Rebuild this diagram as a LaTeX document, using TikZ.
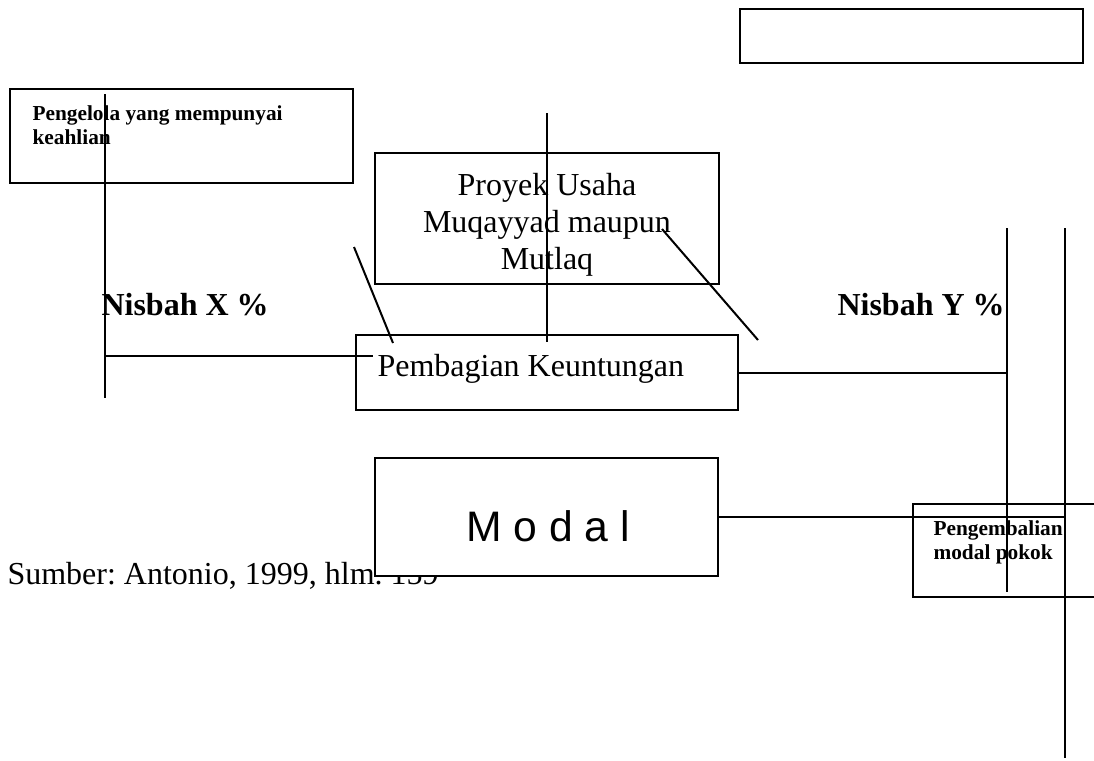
\documentclass[tikz,border=0pt]{standalone}
\usepackage{fontspec}
\setmainfont{Liberation Serif}
\newfontfamily\modalfont{Liberation Sans}
\usetikzlibrary{positioning}
\frenchspacing
\newcommand{\pxl}{0.375pt}
\tikzset{flow box/.style={draw, line width=0.95pt, inner sep=0pt}}
\tikzset{plain edge/.style={draw, line width=0.75pt}}
\tikzset{small label/.style={inner sep=0pt, font=\fontsize{8}{9}\selectfont\bfseries, align=left}}
\tikzset{body label/.style={inner sep=0pt, font=\fontsize{12}{13.9}\selectfont}}
\tikzset{nisbah label/.style={body label, font=\fontsize{12}{13.9}\selectfont\bfseries}}

\begin{document}
\begin{tikzpicture}
      [x=\pxl, y=-\pxl]
      \useasboundingbox (0,0) rectangle (1094,761);

      % kotak-kotak
      \node [flow box, minimum width=343*\pxl, minimum height=54*\pxl]  (kosong)     at ( 911.5,  36.0) {};
      \node [flow box, minimum width=343*\pxl, minimum height=94*\pxl]  (pengelola)  at ( 181.5, 136.0) {};
      \node [flow box, minimum width=344*\pxl, minimum height=131*\pxl] (proyek)     at ( 547.0, 218.5) {};
      \node [flow box, minimum width=382*\pxl, minimum height=75*\pxl]  (pembagian)  at ( 547.0, 372.5) {};
      \node [flow box, minimum width=217*\pxl, minimum height=93*\pxl]  (kembali)    at (1021.5, 550.5) {};

      \node [small label, anchor=north west] (pengelolatxt) at ( 32, 105) {Pengelola yang mempunyai\\keahlian};
      \node [small label, anchor=north west] (kembalitxt)   at (933, 520) {Pengembalian\\modal pokok};
      \node [body label, align=center, anchor=north] (proyektxt) at (547, 173) {Proyek Usaha\\Muqayyad maupun\\Mutlaq};
      \node [body label, anchor=base west] (pembagiantxt) at (377, 376) {Pembagian Keuntungan};
      \node [nisbah label, anchor=base west] (nisbahx) at (101, 315) {Nisbah X \%};
      \node [nisbah label, anchor=base west] (nisbahy) at (837, 315) {Nisbah Y \%};
      \node [body label, anchor=base west] (sumber) at (7, 584) {Sumber: Antonio, 1999, hlm. 159};

      % modal menutupi sebagian teks sumber
      \node [flow box, fill=white, minimum width=343*\pxl, minimum height=118*\pxl] (modal) at (546.5, 517.0) {};
      \node [inner sep=0pt, anchor=base, font=\modalfont\fontsize{16}{18}\selectfont] (modaltxt) at (548, 541) {M o d a l};

      % garis
      \coordinate (xtop)  at ( 105,  94);
      \coordinate (xbot)  at ( 105, 398);
      \coordinate (xjoin) at ( 105, 356);
      \coordinate (xend)  at ( 373, 356);
      \coordinate (mtop)  at ( 547, 113);
      \coordinate (mbot)  at ( 547, 342);
      \coordinate (dla)   at ( 354, 247);
      \coordinate (dlb)   at ( 393, 343);
      \coordinate (dra)   at ( 662, 229);
      \coordinate (drb)   at ( 758, 340);
      \coordinate (ytop)  at (1007, 228);
      \coordinate (ybot)  at (1007, 592);
      \coordinate (ztop)  at (1065, 228);
      \coordinate (zbot)  at (1065, 758);

      \draw [plain edge] (xtop) -- (xbot);
      \draw [plain edge] (xjoin) -- (xend);
      \draw [plain edge] (mtop) -- (mbot);
      \draw [plain edge] (dla) -- (dlb);
      \draw [plain edge] (dra) -- (drb);
      \draw [plain edge] (ytop) -- (ybot);
      \draw [plain edge] (ztop) -- (zbot);
      \draw [plain edge] (pembagian.east) -- (pembagian.east -| ytop);
      \draw [plain edge] (modal.east) -- (modal.east -| ztop);
    \end{tikzpicture}
\end{document}
